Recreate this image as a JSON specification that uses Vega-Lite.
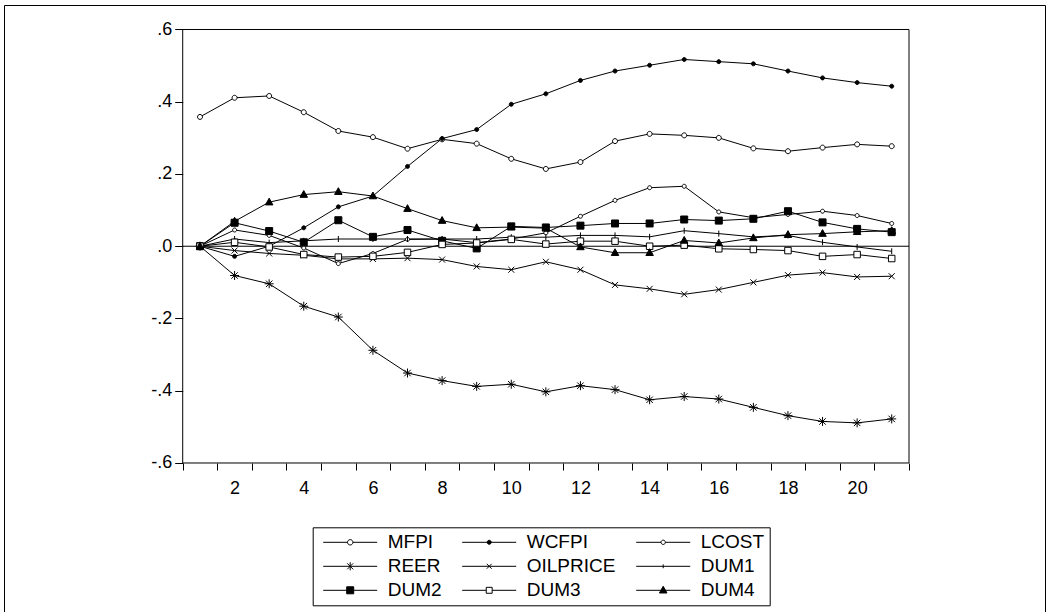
{
 "$schema": "https://vega.github.io/schema/vega-lite/v6.json",
 "width": 1041, "height": 607,
 "autosize": {"type": "none"},
 "padding": {"left": 4, "top": 5, "right": 3, "bottom": 0},
 "background": "white",
 "data": {"values": [
{"t":1,"s":"MFPI","v":0.358},{"t":2,"s":"MFPI","v":0.411},{"t":3,"s":"MFPI","v":0.416},{"t":4,"s":"MFPI","v":0.371},{"t":5,"s":"MFPI","v":0.319},{"t":6,"s":"MFPI","v":0.302},{"t":7,"s":"MFPI","v":0.270},{"t":8,"s":"MFPI","v":0.296},{"t":9,"s":"MFPI","v":0.284},{"t":10,"s":"MFPI","v":0.242},{"t":11,"s":"MFPI","v":0.214},{"t":12,"s":"MFPI","v":0.233},{"t":13,"s":"MFPI","v":0.291},{"t":14,"s":"MFPI","v":0.311},{"t":15,"s":"MFPI","v":0.307},{"t":16,"s":"MFPI","v":0.300},{"t":17,"s":"MFPI","v":0.271},{"t":18,"s":"MFPI","v":0.263},{"t":19,"s":"MFPI","v":0.273},{"t":20,"s":"MFPI","v":0.282},{"t":21,"s":"MFPI","v":0.277},
{"t":1,"s":"WCFPI","v":0},{"t":2,"s":"WCFPI","v":-0.028},{"t":3,"s":"WCFPI","v":0.0},{"t":4,"s":"WCFPI","v":0.051},{"t":5,"s":"WCFPI","v":0.109},{"t":6,"s":"WCFPI","v":0.139},{"t":7,"s":"WCFPI","v":0.221},{"t":8,"s":"WCFPI","v":0.298},{"t":9,"s":"WCFPI","v":0.323},{"t":10,"s":"WCFPI","v":0.393},{"t":11,"s":"WCFPI","v":0.422},{"t":12,"s":"WCFPI","v":0.459},{"t":13,"s":"WCFPI","v":0.485},{"t":14,"s":"WCFPI","v":0.501},{"t":15,"s":"WCFPI","v":0.517},{"t":16,"s":"WCFPI","v":0.511},{"t":17,"s":"WCFPI","v":0.505},{"t":18,"s":"WCFPI","v":0.485},{"t":19,"s":"WCFPI","v":0.466},{"t":20,"s":"WCFPI","v":0.453},{"t":21,"s":"WCFPI","v":0.443},
{"t":1,"s":"LCOST","v":0},{"t":2,"s":"LCOST","v":0.045},{"t":3,"s":"LCOST","v":0.03},{"t":4,"s":"LCOST","v":-0.005},{"t":5,"s":"LCOST","v":-0.048},{"t":6,"s":"LCOST","v":-0.02},{"t":7,"s":"LCOST","v":0.019},{"t":8,"s":"LCOST","v":0.02},{"t":9,"s":"LCOST","v":0.01},{"t":10,"s":"LCOST","v":0.02},{"t":11,"s":"LCOST","v":0.037},{"t":12,"s":"LCOST","v":0.083},{"t":13,"s":"LCOST","v":0.127},{"t":14,"s":"LCOST","v":0.162},{"t":15,"s":"LCOST","v":0.166},{"t":16,"s":"LCOST","v":0.095},{"t":17,"s":"LCOST","v":0.079},{"t":18,"s":"LCOST","v":0.088},{"t":19,"s":"LCOST","v":0.097},{"t":20,"s":"LCOST","v":0.085},{"t":21,"s":"LCOST","v":0.063},
{"t":1,"s":"REER","v":0},{"t":2,"s":"REER","v":-0.081},{"t":3,"s":"REER","v":-0.104},{"t":4,"s":"REER","v":-0.166},{"t":5,"s":"REER","v":-0.196},{"t":6,"s":"REER","v":-0.288},{"t":7,"s":"REER","v":-0.351},{"t":8,"s":"REER","v":-0.372},{"t":9,"s":"REER","v":-0.388},{"t":10,"s":"REER","v":-0.382},{"t":11,"s":"REER","v":-0.403},{"t":12,"s":"REER","v":-0.386},{"t":13,"s":"REER","v":-0.397},{"t":14,"s":"REER","v":-0.425},{"t":15,"s":"REER","v":-0.416},{"t":16,"s":"REER","v":-0.423},{"t":17,"s":"REER","v":-0.446},{"t":18,"s":"REER","v":-0.469},{"t":19,"s":"REER","v":-0.485},{"t":20,"s":"REER","v":-0.489},{"t":21,"s":"REER","v":-0.478},
{"t":1,"s":"OILPRICE","v":0},{"t":2,"s":"OILPRICE","v":-0.012},{"t":3,"s":"OILPRICE","v":-0.02},{"t":4,"s":"OILPRICE","v":-0.025},{"t":5,"s":"OILPRICE","v":-0.035},{"t":6,"s":"OILPRICE","v":-0.035},{"t":7,"s":"OILPRICE","v":-0.033},{"t":8,"s":"OILPRICE","v":-0.037},{"t":9,"s":"OILPRICE","v":-0.056},{"t":10,"s":"OILPRICE","v":-0.065},{"t":11,"s":"OILPRICE","v":-0.043},{"t":12,"s":"OILPRICE","v":-0.065},{"t":13,"s":"OILPRICE","v":-0.107},{"t":14,"s":"OILPRICE","v":-0.118},{"t":15,"s":"OILPRICE","v":-0.133},{"t":16,"s":"OILPRICE","v":-0.12},{"t":17,"s":"OILPRICE","v":-0.1},{"t":18,"s":"OILPRICE","v":-0.08},{"t":19,"s":"OILPRICE","v":-0.073},{"t":20,"s":"OILPRICE","v":-0.085},{"t":21,"s":"OILPRICE","v":-0.083},
{"t":1,"s":"DUM1","v":0},{"t":2,"s":"DUM1","v":0.02},{"t":3,"s":"DUM1","v":0.01},{"t":4,"s":"DUM1","v":0.015},{"t":5,"s":"DUM1","v":0.02},{"t":6,"s":"DUM1","v":0.02},{"t":7,"s":"DUM1","v":0.02},{"t":8,"s":"DUM1","v":0.02},{"t":9,"s":"DUM1","v":0.02},{"t":10,"s":"DUM1","v":0.025},{"t":11,"s":"DUM1","v":0.025},{"t":12,"s":"DUM1","v":0.03},{"t":13,"s":"DUM1","v":0.03},{"t":14,"s":"DUM1","v":0.026},{"t":15,"s":"DUM1","v":0.043},{"t":16,"s":"DUM1","v":0.035},{"t":17,"s":"DUM1","v":0.026},{"t":18,"s":"DUM1","v":0.03},{"t":19,"s":"DUM1","v":0.011},{"t":20,"s":"DUM1","v":-0.002},{"t":21,"s":"DUM1","v":-0.014},
{"t":1,"s":"DUM2","v":0},{"t":2,"s":"DUM2","v":0.065},{"t":3,"s":"DUM2","v":0.042},{"t":4,"s":"DUM2","v":0.011},{"t":5,"s":"DUM2","v":0.072},{"t":6,"s":"DUM2","v":0.026},{"t":7,"s":"DUM2","v":0.045},{"t":8,"s":"DUM2","v":0.015},{"t":9,"s":"DUM2","v":-0.006},{"t":10,"s":"DUM2","v":0.055},{"t":11,"s":"DUM2","v":0.052},{"t":12,"s":"DUM2","v":0.057},{"t":13,"s":"DUM2","v":0.063},{"t":14,"s":"DUM2","v":0.063},{"t":15,"s":"DUM2","v":0.074},{"t":16,"s":"DUM2","v":0.071},{"t":17,"s":"DUM2","v":0.076},{"t":18,"s":"DUM2","v":0.097},{"t":19,"s":"DUM2","v":0.066},{"t":20,"s":"DUM2","v":0.048},{"t":21,"s":"DUM2","v":0.039},
{"t":1,"s":"DUM3","v":0},{"t":2,"s":"DUM3","v":0.011},{"t":3,"s":"DUM3","v":-0.002},{"t":4,"s":"DUM3","v":-0.023},{"t":5,"s":"DUM3","v":-0.03},{"t":6,"s":"DUM3","v":-0.028},{"t":7,"s":"DUM3","v":-0.017},{"t":8,"s":"DUM3","v":0.005},{"t":9,"s":"DUM3","v":0.009},{"t":10,"s":"DUM3","v":0.019},{"t":11,"s":"DUM3","v":0.006},{"t":12,"s":"DUM3","v":0.014},{"t":13,"s":"DUM3","v":0.014},{"t":14,"s":"DUM3","v":0.0},{"t":15,"s":"DUM3","v":0.003},{"t":16,"s":"DUM3","v":-0.007},{"t":17,"s":"DUM3","v":-0.009},{"t":18,"s":"DUM3","v":-0.012},{"t":19,"s":"DUM3","v":-0.028},{"t":20,"s":"DUM3","v":-0.023},{"t":21,"s":"DUM3","v":-0.034},
{"t":1,"s":"DUM4","v":0},{"t":2,"s":"DUM4","v":0.069},{"t":3,"s":"DUM4","v":0.122},{"t":4,"s":"DUM4","v":0.143},{"t":5,"s":"DUM4","v":0.151},{"t":6,"s":"DUM4","v":0.139},{"t":7,"s":"DUM4","v":0.104},{"t":8,"s":"DUM4","v":0.071},{"t":9,"s":"DUM4","v":0.051},{"t":10,"s":"DUM4","v":0.053},{"t":11,"s":"DUM4","v":0.05},{"t":12,"s":"DUM4","v":-0.002},{"t":13,"s":"DUM4","v":-0.018},{"t":14,"s":"DUM4","v":-0.018},{"t":15,"s":"DUM4","v":0.016},{"t":16,"s":"DUM4","v":0.009},{"t":17,"s":"DUM4","v":0.023},{"t":18,"s":"DUM4","v":0.032},{"t":19,"s":"DUM4","v":0.035},{"t":20,"s":"DUM4","v":0.04},{"t":21,"s":"DUM4","v":0.043}
 ]},
 "layer": [
  {
   "mark": {"type": "line", "stroke": "black", "strokeWidth": 1},
   "encoding": {
    "x": {"field": "t", "type": "quantitative", "title": null, "scale": {"domain": [-4.667, 25.432], "nice": false, "zero": false},
     "axis": {"orient": "bottom", "offset": -149, "values": [0.5,1.5,2.5,3.5,4.5,5.5,6.5,7.5,8.5,9.5,10.5,11.5,12.5,13.5,14.5,15.5,16.5,17.5,18.5,19.5,20.5,21.5],
      "labelExpr": "(datum.value + 0.5 <= 20 && (datum.value + 0.5) % 2 == 0) ? '' + (datum.value + 0.5) : ''",
      "labelOffset": 17.3, "tickSize": 7, "labelPadding": 9, "labelOverlap": false, "labelFlush": false, "labelBound": false,
      "domain": false, "grid": false, "title": null, "ticks": true, "tickColor": "black", "tickWidth": 1,
      "labelFont": "Liberation Sans Narrow, Liberation Sans", "labelFontSize": 18, "labelColor": "black"}},
    "y": {"field": "v", "type": "quantitative", "title": null, "scale": {"domain": [-1.0125, 0.6678], "nice": false, "zero": false},
     "axis": {"orient": "left", "offset": -178.7, "values": [-0.6,-0.4,-0.2,0,0.2,0.4,0.6],
      "labelExpr": "(datum.value < -0.001 ? '-' : '') + '.' + round(abs(datum.value) * 10)",
      "tickSize": 8, "labelPadding": 3, "labelOverlap": false, "labelBound": false,
      "domain": false, "grid": false, "title": null, "ticks": true, "tickColor": "black", "tickWidth": 1,
      "labelFont": "Liberation Sans Narrow, Liberation Sans", "labelFontSize": 18, "labelColor": "black"}},
    "detail": {"field": "s", "type": "nominal"}
   }
  },
  {
   "data": {"values": [{}]},
   "mark": {"type": "rect", "filled": false, "stroke": "black", "strokeWidth": 1},
   "encoding": {
    "x": {"datum": 0.5, "type": "quantitative", "scale": {"domain": [-4.667, 25.432], "nice": false, "zero": false}},
    "x2": {"datum": 21.5},
    "y": {"datum": -0.6, "type": "quantitative", "scale": {"domain": [-1.0125, 0.6678], "nice": false, "zero": false}},
    "y2": {"datum": 0.6}
   }
  },
  {
   "data": {"values": [{}]},
   "mark": {"type": "rule", "stroke": "black", "strokeWidth": 1},
   "encoding": {
    "x": {"datum": 0.5, "type": "quantitative", "scale": {"domain": [-4.667, 25.432], "nice": false, "zero": false}},
    "x2": {"datum": 21.5},
    "y": {"datum": 0, "type": "quantitative", "scale": {"domain": [-1.0125, 0.6678], "nice": false, "zero": false}}
   }
  },
  {
   "mark": {"type": "point", "filled": true, "stroke": "black", "strokeWidth": 1, "size": 100, "opacity": 1},
   "encoding": {
    "x": {"field": "t", "type": "quantitative", "title": null, "scale": {"domain": [-4.667, 25.432], "nice": false, "zero": false}},
    "y": {"field": "v", "type": "quantitative", "title": null, "scale": {"domain": [-1.0125, 0.6678], "nice": false, "zero": false}},
    "shape": {"field": "s", "type": "nominal", "legend": null,
     "scale": {"domain": ["MFPI","WCFPI","LCOST","REER","OILPRICE","DUM1","DUM2","DUM3","DUM4"],
      "range": [
       "M0.5,0A0.5,0.5 0 1 1 -0.5,0A0.5,0.5 0 1 1 0.5,0Z",
       "M0.4,0A0.4,0.4 0 1 1 -0.4,0A0.4,0.4 0 1 1 0.4,0Z",
       "M0.4,0A0.4,0.4 0 1 1 -0.4,0A0.4,0.4 0 1 1 0.4,0Z",
       "M-0.9,0L0.9,0M0,-0.9L0,0.9M-0.65,-0.65L0.65,0.65M-0.65,0.65L0.65,-0.65",
       "M-0.6,-0.6L0.6,0.6M-0.6,0.6L0.6,-0.6",
       "M0,-0.6L0,0.6",
       "M-0.7,-0.7L0.7,-0.7L0.7,0.7L-0.7,0.7Z",
       "M-0.65,-0.65L0.65,-0.65L0.65,0.65L-0.65,0.65Z",
       "M0,-0.8L0.75,0.55L-0.75,0.55Z"]}},
    "fill": {"field": "s", "type": "nominal", "legend": null,
     "scale": {"domain": ["MFPI","WCFPI","LCOST","REER","OILPRICE","DUM1","DUM2","DUM3","DUM4"],
      "range": ["white","black","white","black","black","black","black","white","black"]}}
   }
  },
  {
   "transform": [{"filter": "false"}],
   "mark": {"type": "point", "filled": true, "stroke": "black", "strokeWidth": 1, "opacity": 1},
   "encoding": {
    "shape": {"field": "s", "type": "nominal",
     "scale": {"domain": ["MFPI","WCFPI","LCOST","REER","OILPRICE","DUM1","DUM2","DUM3","DUM4"],
      "range": [
       "M-1,0L-0.1,0M0.1,0L1,0M0.1,0A0.1,0.1 0 1 1 -0.1,0A0.1,0.1 0 1 1 0.1,0Z",
       "M-1,0L1,0M0.075,0A0.075,0.075 0 1 1 -0.075,0A0.075,0.075 0 1 1 0.075,0Z",
       "M-1,0L-0.08,0M0.08,0L1,0M0.08,0A0.08,0.08 0 1 1 -0.08,0A0.08,0.08 0 1 1 0.08,0Z",
       "M-1,0L1,0M0,-0.15L0,0.15M-0.11,-0.11L0.11,0.11M-0.11,0.11L0.11,-0.11",
       "M-1,0L1,0M-0.09,-0.09L0.09,0.09M-0.09,0.09L0.09,-0.09",
       "M-1,0L1,0M0,-0.07L0,0.07",
       "M-1,0L1,0M-0.13,-0.13L0.13,-0.13L0.13,0.13L-0.13,0.13Z",
       "M-1,0L-0.11,0M0.11,0L1,0M-0.11,-0.11L0.11,-0.11L0.11,0.11L-0.11,0.11Z",
       "M-1,0L1,0M0,-0.15L0.14,0.1L-0.14,0.1Z"]},
     "legend": {"orient": "none", "legendX": 308.7, "legendY": 522.3, "title": null, "columns": 3, "direction": "horizontal",
      "symbolSize": 2916, "clipHeight": 20, "rowPadding": 4, "columnPadding": 15, "padding": 5,
      "strokeColor": "black", "fillColor": "white", "labelFont": "Liberation Sans", "labelFontSize": 19, "labelColor": "black",
      "labelOffset": 10, "symbolOffset": 5, "symbolStrokeWidth": 1, "symbolStrokeColor": "black", "symbolOpacity": 1,
      "encode": {"symbols": {"update": {"stroke": {"value": "black"}, "strokeWidth": {"value": 1}, "opacity": {"value": 1}}}}}},
    "fill": {"field": "s", "type": "nominal",
     "scale": {"domain": ["MFPI","WCFPI","LCOST","REER","OILPRICE","DUM1","DUM2","DUM3","DUM4"],
      "range": ["white","black","white","black","black","black","black","white","black"]},
     "legend": {"orient": "none", "legendX": 308.7, "legendY": 522.3, "title": null, "columns": 3, "direction": "horizontal",
      "symbolSize": 2916, "clipHeight": 20, "rowPadding": 4, "columnPadding": 15, "padding": 5,
      "strokeColor": "black", "fillColor": "white", "labelFont": "Liberation Sans", "labelFontSize": 19, "labelColor": "black",
      "labelOffset": 10, "symbolOffset": 5, "symbolStrokeWidth": 1, "symbolStrokeColor": "black", "symbolOpacity": 1,
      "encode": {"symbols": {"update": {"stroke": {"value": "black"}, "strokeWidth": {"value": 1}, "opacity": {"value": 1}}}}}}
   }
  }
 ],
 "resolve": {"scale": {"shape": "independent", "fill": "independent"}},
 "config": {
  "view": {"stroke": "black", "strokeWidth": 1},
  "legend": {"strokeWidth": 1}
 }
}
